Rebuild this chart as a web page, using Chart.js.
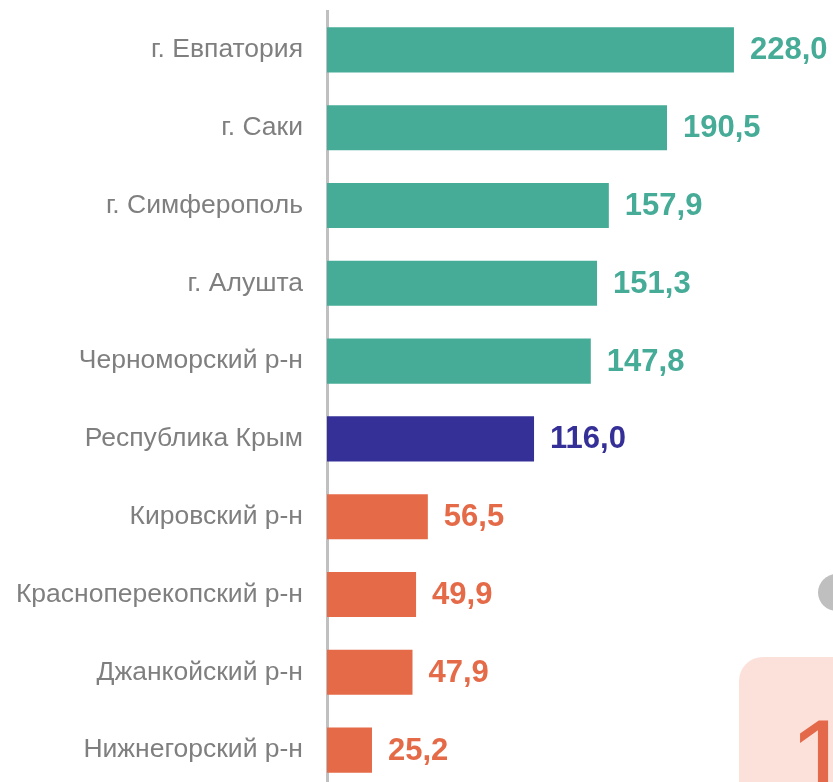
<!DOCTYPE html>
<html lang="ru">
<head>
    <meta charset="UTF-8">
    <title>Районы Крыма</title>
    <style>
        html, body {
            margin: 0;
            padding: 0;
            background: #ffffff;
            overflow: hidden;
            width: 833px;
            height: 782px;
        }
        #wrap {
            position: relative;
            width: 833px;
            height: 790px;
        }
        #chart {
            position: absolute;
            left: 0;
            top: 0;
        }
        .dot {
            position: absolute;
            left: 818px;
            top: 574px;
            width: 37px;
            height: 37px;
            border-radius: 50%;
            background: #bfbfbf;
        }
        .card {
            position: absolute;
            left: 739px;
            top: 657px;
            width: 200px;
            height: 200px;
            border-radius: 24px;
            background: #fce1da;
            overflow: hidden;
        }
        .card span {
            position: absolute;
            left: 50px;
            top: 46px;
            font-family: "Liberation Sans", Arial, sans-serif;
            font-size: 115px;
            line-height: 1;
            color: #e4694a;
        }
    </style>
</head>
<body>
    <div id="wrap">
        <canvas id="chart" width="833" height="790"></canvas>
        <div class="dot"></div>
        <div class="card"><span>1</span></div>
    </div>
    <script src="https://cdn.jsdelivr.net/npm/chart.js@4.4.1/dist/chart.umd.min.js"></script>
    <script>
        const districts = [
            'г. Евпатория',
            'г. Саки',
            'г. Симферополь',
            'г. Алушта',
            'Черноморский р-н',
            'Республика Крым',
            'Кировский р-н',
            'Красноперекопский р-н',
            'Джанкойский р-н',
            'Нижнегорский р-н'
        ];
        const values = [228.0, 190.5, 157.9, 151.3, 147.8, 116.0, 56.5, 49.9, 47.9, 25.2];

        const TEAL = '#46ab97';
        const NAVY = '#353097';
        const ORANGE = '#e46a48';

        // above the republic average -> teal, the republic itself -> navy, below -> orange
        const barColors = values.map((v, i) => {
            if (districts[i] === 'Республика Крым') return NAVY;
            return v > 116.0 ? TEAL : ORANGE;
        });

        const valueLabels = {
            id: 'valueLabels',
            afterDatasetsDraw(chart) {
                const ctx = chart.ctx;
                const meta = chart.getDatasetMeta(0);
                ctx.save();
                ctx.font = 'bold 31px "Liberation Sans", Arial, sans-serif';
                ctx.textAlign = 'left';
                ctx.textBaseline = 'middle';
                meta.data.forEach((bar, i) => {
                    ctx.fillStyle = barColors[i];
                    ctx.fillText(values[i].toFixed(1).replace('.', ','), bar.x + 16, bar.y + 1);
                });
                ctx.restore();
            }
        };

        const ctx = document.getElementById('chart').getContext('2d');
        new Chart(ctx, {
            type: 'bar',
            data: {
                labels: districts,
                datasets: [{
                    data: values,
                    backgroundColor: barColors,
                    borderWidth: 0,
                    barPercentage: 0.58,
                    categoryPercentage: 1
                }]
            },
            options: {
                indexAxis: 'y',
                responsive: false,
                animation: false,
                layout: {
                    padding: { top: 11, right: 0, bottom: 1, left: 0 }
                },
                plugins: {
                    legend: { display: false },
                    tooltip: { enabled: false }
                },
                scales: {
                    x: {
                        display: false,
                        min: 0,
                        max: 283.5
                    },
                    y: {
                        afterFit(scale) {
                            scale.width = 327;
                            // tick padding should not eat vertical room
                            scale.paddingTop = 0;
                            scale.paddingBottom = 0;
                        },
                        grid: { display: false, drawTicks: false },
                        border: { display: true, color: '#c0c0c0', width: 3 },
                        ticks: {
                            padding: 24,
                            color: '#7f7f7f',
                            font: { family: '"Liberation Sans", Arial, sans-serif', size: 26.5 }
                        }
                    }
                }
            },
            plugins: [valueLabels]
        });
    </script>
</body>
</html>
